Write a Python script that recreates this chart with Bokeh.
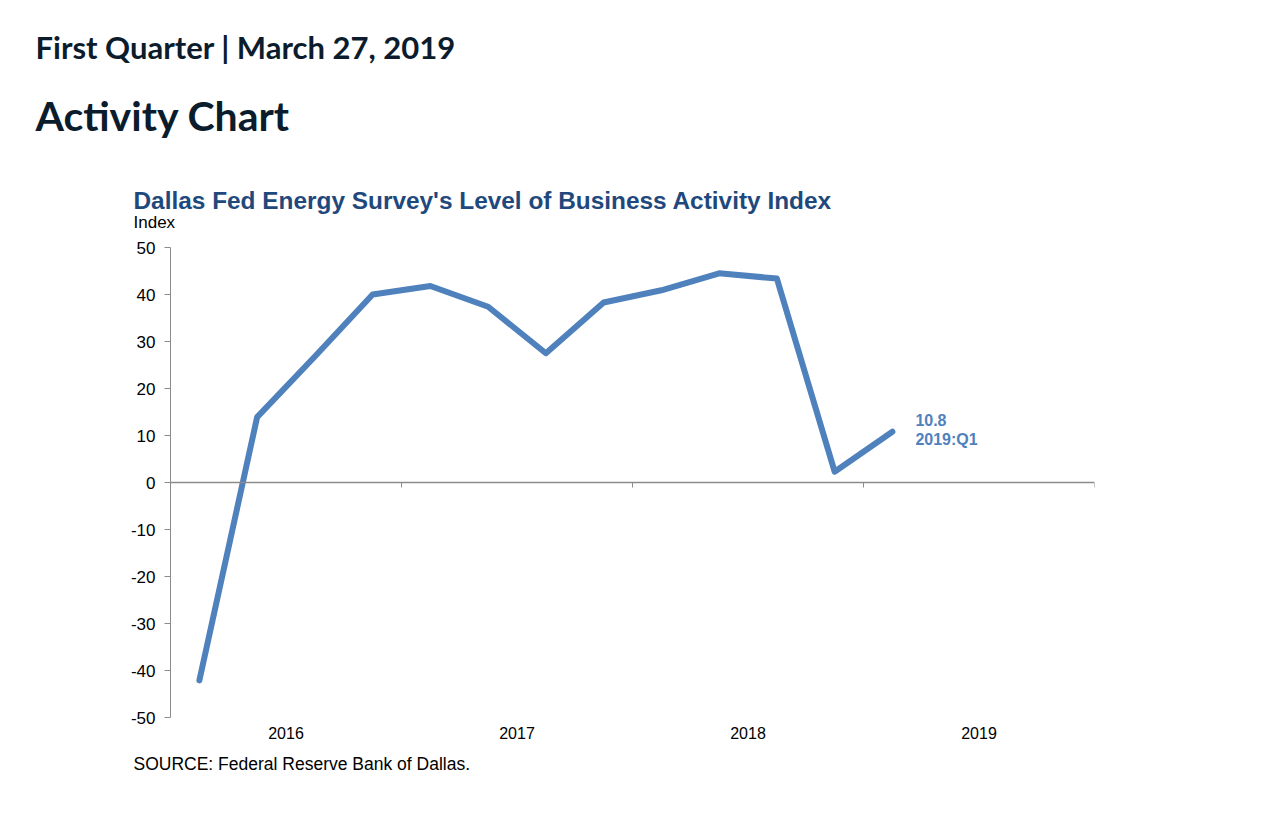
from bokeh.embed import file_html
from bokeh.models import FixedTicker, Label, LinearAxis, Range1d, Title
from bokeh.plotting import figure
from bokeh.resources import INLINE

LINE_BLUE = "#4f81bd"
TITLE_BLUE = "#1f497d"
HEAD = "#0b1c2c"
AXIS_GRAY = "#8c8c8c"
CHART_FONT = "Liberation Sans"
HEAD_FONT = "Lato"

quarters = ["2016:Q1", "2016:Q2", "2016:Q3", "2016:Q4",
            "2017:Q1", "2017:Q2", "2017:Q3", "2017:Q4",
            "2018:Q1", "2018:Q2", "2018:Q3", "2018:Q4",
            "2019:Q1"]
activity = [-42.1, 13.9, 26.8, 40.0,
            41.8, 37.4, 27.5, 38.3,
            40.9, 44.5, 43.4, 2.3,
            10.8]
years = [2016, 2017, 2018, 2019]
y_ticks = [-50, -40, -30, -20, -10, 0, 10, 20, 30, 40, 50]

# quarter midpoints on a fractional-year scale
xs = [int(q[:4]) + (int(q[-1]) - 0.5) / 4 for q in quarters]

p = figure(
    frame_width=924, frame_height=470,
    min_border_left=170, min_border_right=164, min_border_top=247,
    min_border_bottom=20,
    x_range=Range1d(years[0], years[-1] + 1), y_range=Range1d(-50, 50),
    x_axis_location=None, y_axis_location=None,
    toolbar_location=None, output_backend="svg",
    background_fill_color="white", border_fill_color="white",
)
p.outline_line_color = None
p.grid.visible = False

yaxis = LinearAxis(ticker=FixedTicker(ticks=y_ticks))
yaxis.major_label_overrides = {t: str(t) for t in y_ticks}
yaxis.axis_line_color = AXIS_GRAY
yaxis.major_tick_line_color = AXIS_GRAY
yaxis.major_tick_out = 6
yaxis.major_tick_in = 0
yaxis.minor_tick_line_color = None
yaxis.major_label_standoff = 9
yaxis.major_label_text_font = CHART_FONT
yaxis.major_label_text_font_size = "17px"
yaxis.major_label_text_color = "black"
p.add_layout(yaxis, "left")

# year labels centred in each year, no line or ticks
xlabels = LinearAxis(ticker=FixedTicker(ticks=[y + 0.5 for y in years]))
xlabels.major_label_overrides = {y + 0.5: str(y) for y in years}
xlabels.axis_line_color = None
xlabels.major_tick_line_color = None
xlabels.minor_tick_line_color = None
xlabels.major_tick_out = 0
xlabels.major_label_standoff = 9
xlabels.major_label_text_font = CHART_FONT
xlabels.major_label_text_font_size = "16px"
xlabels.major_label_text_color = "black"
p.add_layout(xlabels, "below")

p.add_layout(Title(text="SOURCE: Federal Reserve Bank of Dallas.", align="left",
                   offset=-37, text_font=CHART_FONT, text_font_size="17.5px",
                   text_font_style="normal", text_color="black", standoff=21), "below")

# zero line carrying the year-boundary ticks
bounds = years + [years[-1] + 1]
zaxis = LinearAxis(ticker=FixedTicker(ticks=bounds), fixed_location=0)
zaxis.major_label_overrides = {b: "" for b in bounds}
zaxis.axis_line_color = AXIS_GRAY
zaxis.axis_line_width = 1.5
zaxis.major_tick_line_color = AXIS_GRAY
zaxis.major_tick_out = 5
zaxis.major_tick_in = 0
zaxis.minor_tick_line_color = None
p.add_layout(zaxis, "below")

p.line(xs, activity, line_width=6, color=LINE_BLUE, line_join="round", line_cap="round")

p.add_layout(Label(
    x=xs[-1], y=activity[-1], text=f"{activity[-1]}\n{quarters[-1]}",
    x_offset=23, y_offset=2, text_baseline="middle", text_font=CHART_FONT,
    text_font_size="16px", text_font_style="bold", text_color=LINE_BLUE,
    text_line_height=1.1,
))

# titles stack upward from the frame; standoff is split around each text
p.add_layout(Title(text="Index", align="left", offset=-37, text_font=CHART_FONT,
                   text_font_size="17px", text_font_style="normal",
                   text_color="black", standoff=32), "above")
p.add_layout(Title(text="Dallas Fed Energy Survey's Level of Business Activity Index",
                   align="left", offset=-37, text_font=CHART_FONT,
                   text_font_size="24.4px", text_font_style="bold",
                   text_color=TITLE_BLUE, standoff=-39), "above")
p.add_layout(Title(text="Activity Chart", align="left", offset=-135, text_font=HEAD_FONT,
                   text_font_size="41px", text_font_style="bold",
                   text_color=HEAD, standoff=109), "above")
p.add_layout(Title(text="First Quarter | March 27, 2019", align="left", offset=-135,
                   text_font=HEAD_FONT, text_font_size="31px", text_font_style="bold",
                   text_color=HEAD, standoff=-62), "above")

open("out.html", "w").write(file_html(p, INLINE))
